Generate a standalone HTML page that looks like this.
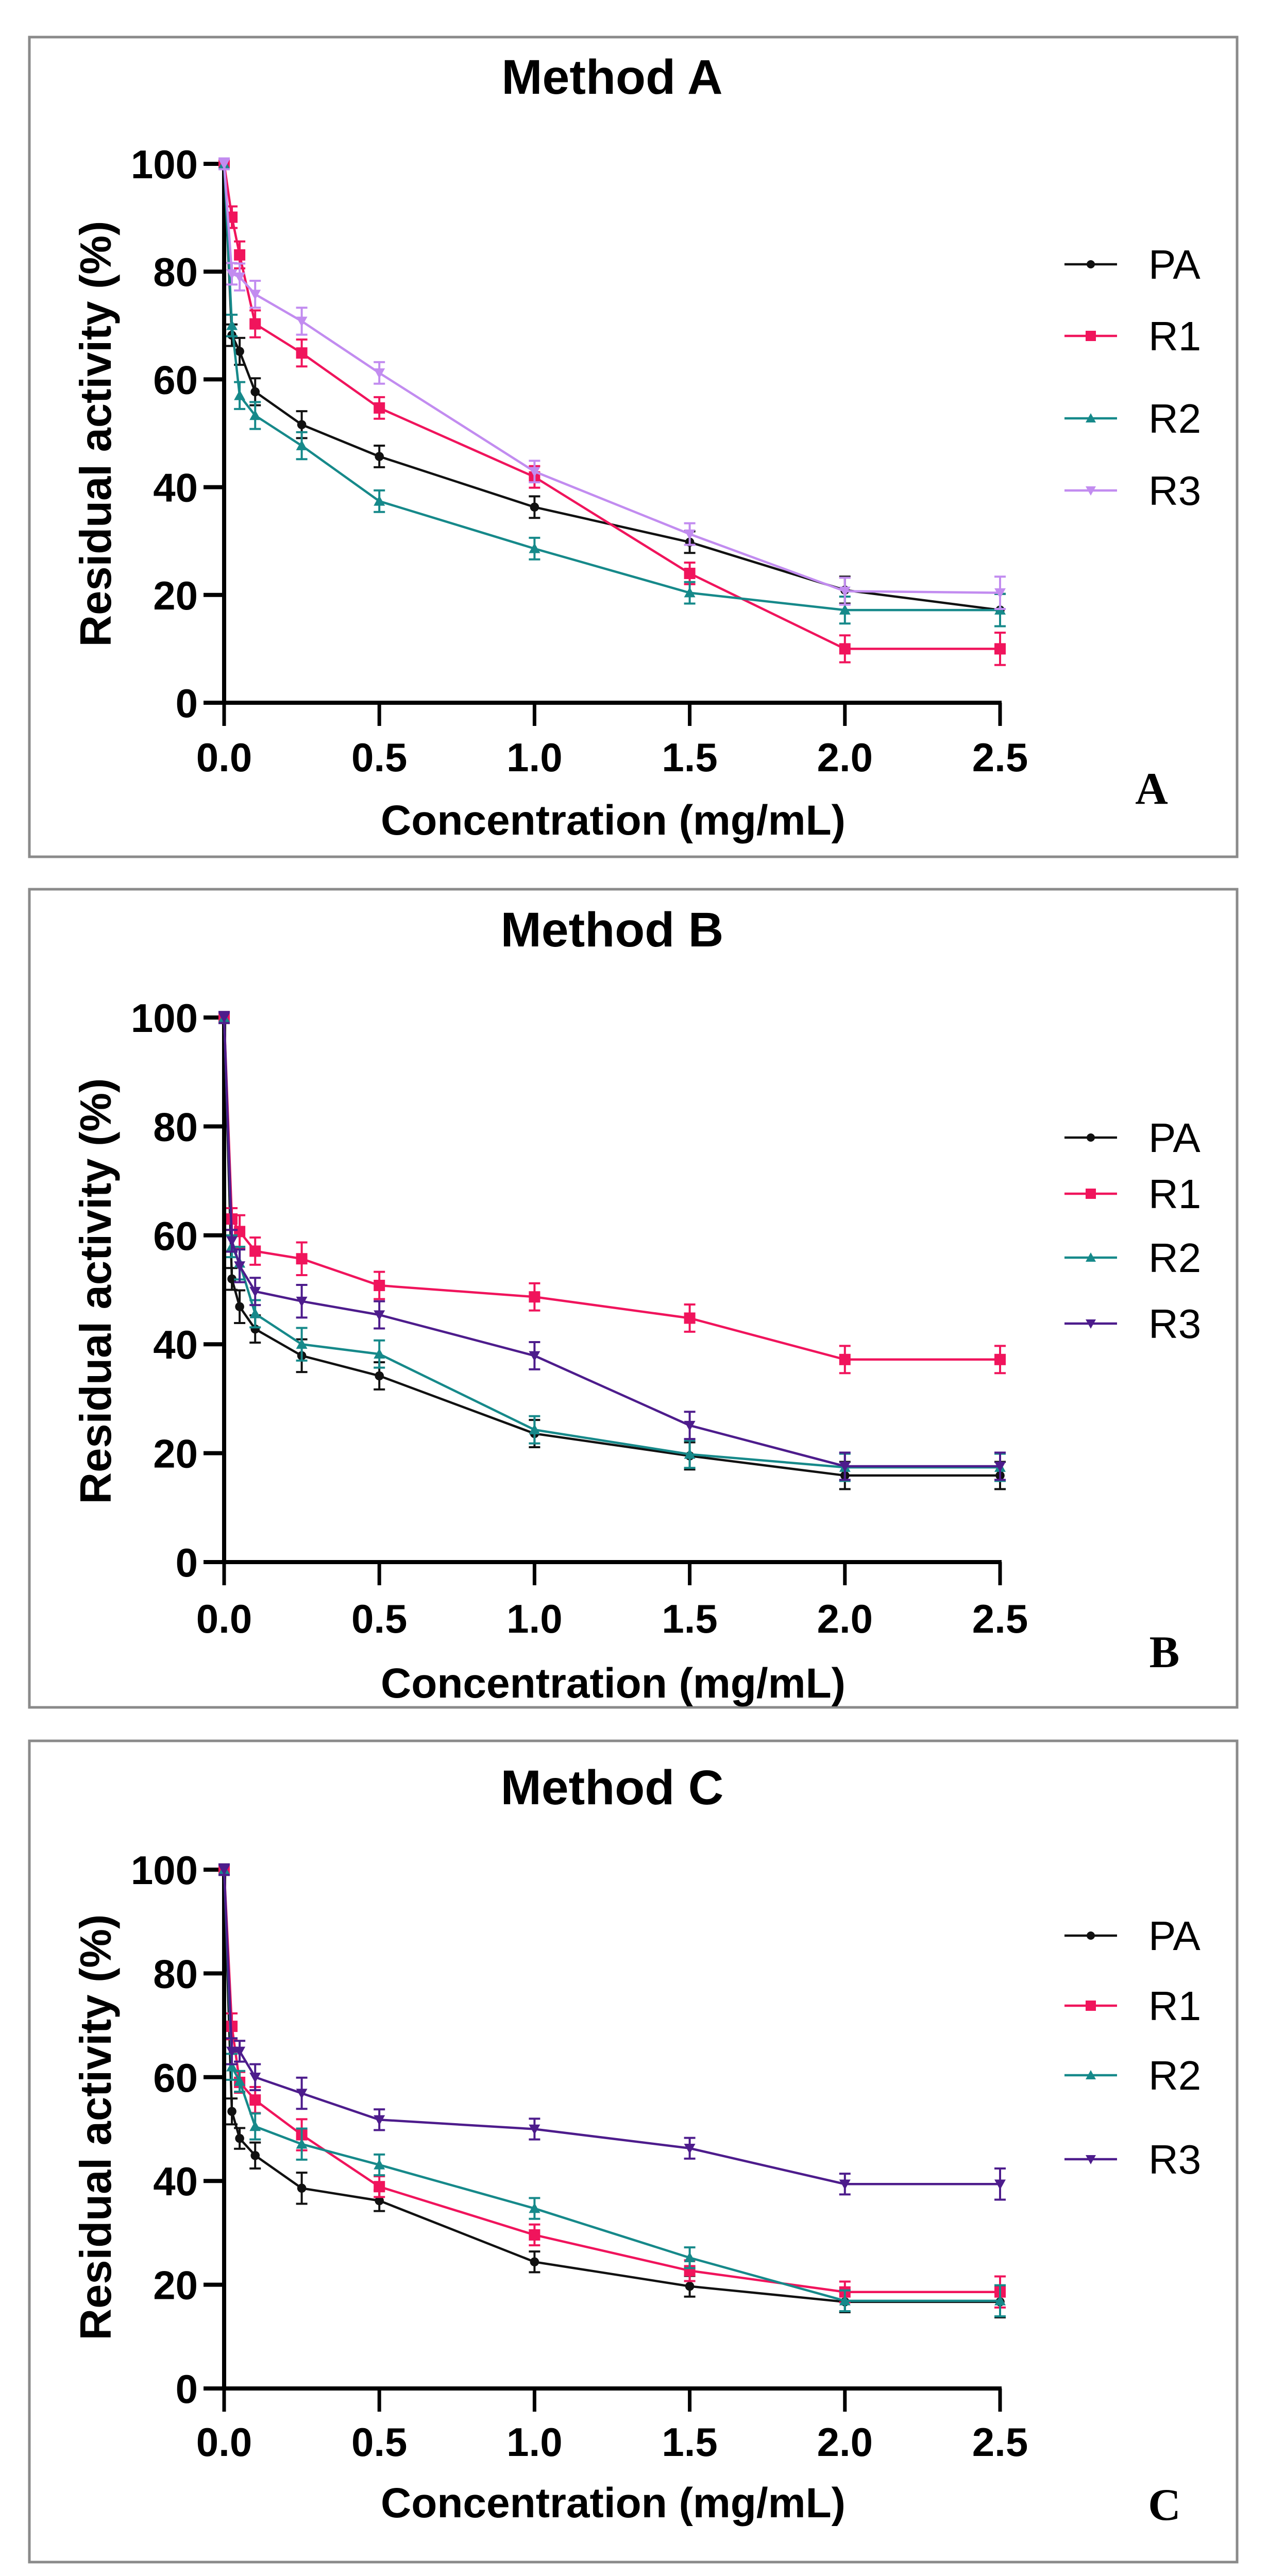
<!DOCTYPE html>
<html><head><meta charset="utf-8">
<style>
html,body{margin:0;padding:0;background:#fff;overflow:hidden;width:2461px;height:5019px;}
svg{display:block;}
</style></head>
<body>
<svg id="fig" xmlns="http://www.w3.org/2000/svg" width="2461" height="5019" viewBox="0 0 2461 5019">
<rect x="0" y="0" width="2461" height="5019" fill="#fff"/>
</svg>
<script>
const concentrations = [0, 0.025, 0.05, 0.1, 0.25, 0.5, 1, 1.5, 2, 2.5];
const xTicks = [0, 0.5, 1, 1.5, 2, 2.5];
const xTickLabels = ["0.0", "0.5", "1.0", "1.5", "2.0", "2.5"];
const yTicks = [0, 20, 40, 60, 80, 100];
const yTickLabels = ["0", "20", "40", "60", "80", "100"];
const seriesNames = ["PA", "R1", "R2", "R3"];
const panelTitles = ["Method A", "Method B", "Method C"];
const panelLetters = ["A", "B", "C"];

const aPA = [100, 68.2, 65.2, 57.7, 51.6, 45.7, 36.3, 29.8, 20.9, 17.2];
const aR1 = [100, 90.1, 83.1, 70.3, 64.9, 54.7, 41.9, 24.0, 10.0, 10.0];
const aR2 = [100, 70.0, 57.0, 53.3, 47.7, 37.4, 28.6, 20.4, 17.2, 17.2];
const aR3 = [100, 79.6, 79.0, 75.8, 70.8, 61.2, 42.9, 31.3, 20.7, 20.4];
const aErr = [1, 2, 2.5, 2.5, 2.5, 2, 2, 2, 2.5, 3];

const bPA = [100, 52.0, 46.9, 42.8, 37.9, 34.2, 23.6, 19.5, 15.9, 15.9];
const bR1 = [100, 63.0, 60.7, 57.1, 55.7, 50.8, 48.7, 44.8, 37.2, 37.2];
const bR2 = [100, 58.0, 54.9, 45.6, 40.0, 38.2, 24.3, 19.8, 17.4, 17.4];
const bR3 = [100, 59.0, 54.4, 49.7, 47.9, 45.4, 37.9, 25.1, 17.6, 17.6];
const bErr = [1, 2, 3, 2.5, 3, 2.5, 2.5, 2.5, 2.5, 2.5];

const cPA = [100, 53.4, 48.2, 44.9, 38.6, 36.2, 24.4, 19.7, 16.7, 16.7];
const cR1 = [100, 69.8, 59.0, 55.6, 48.9, 38.9, 29.6, 22.7, 18.6, 18.6];
const cR2 = [100, 62.0, 59.2, 50.5, 47.1, 43.1, 34.7, 25.2, 16.9, 16.9];
const cR3 = [100, 65.0, 65.0, 60.0, 56.9, 51.8, 50.0, 46.3, 39.4, 39.4];
const cErr = [1, 2.5, 2, 2.5, 3, 2, 2, 2, 2, 3];

const panelData = [[aPA, aR1, aR2, aR3], [bPA, bR1, bR2, bR3], [cPA, cR1, cR2, cR3]];
const panelErr = [aErr, bErr, cErr];

const NS = "http://www.w3.org/2000/svg";
const svg = document.getElementById("fig");
function mk(tag, attrs, parent) {
  const e = document.createElementNS(NS, tag);
  for (const k in attrs) e.setAttribute(k, attrs[k]);
  (parent || svg).appendChild(e);
  return e;
}
const layouts = [
  {frameTop:72, frameBot:1663, y100:318, y0:1364, titleY:182, tickLblY:1497, xTitleY:1620, yTitleY:842, letterX:2235, letterY:1560, legY:[513,652,812,952]},
  {frameTop:1726, frameBot:3314, y100:1975, y0:3032, titleY:1837, tickLblY:3169, xTitleY:3295, yTitleY:2506, letterX:2260, letterY:3236, legY:[2208,2317,2441,2569]},
  {frameTop:3379, frameBot:4973, y100:3629, y0:4636, titleY:3502, tickLblY:4767, xTitleY:4886, yTitleY:4129, letterX:2260, letterY:4891, legY:[3757,3893,4028,4191]}
];
const colorsByPanel = [
  ["#111111", "#f0145c", "#16898a", "#c28cf0"],
  ["#111111", "#f0145c", "#16898a", "#4d1c8c"],
  ["#111111", "#f0145c", "#16898a", "#4d1c8c"]
];
const X0 = 435, XU = 602.4;
function xs(v) { return X0 + v * XU; }

function marker(g, type, cx, cy, color, s) {
  let m;
  if (type === 0) m = mk("circle", {cx:cx, cy:cy, r:s*0.8, fill:color}, g);
  else if (type === 1) m = mk("rect", {x:cx-s, y:cy-s, width:2*s, height:2*s, fill:color}, g);
  else if (type === 2) m = mk("polygon", {points:`${cx},${cy-s} ${cx-s},${cy+s*0.8} ${cx+s},${cy+s*0.8}`, fill:color}, g);
  else m = mk("polygon", {points:`${cx},${cy+s} ${cx-s},${cy-s*0.8} ${cx+s},${cy-s*0.8}`, fill:color}, g);
  return m;
}

layouts.forEach((L, p) => {
  const ys = v => L.y0 - v * (L.y0 - L.y100) / 100;
  const g = mk("g", {});
  
  
  const fr = mk("rect", {x:57, y:L.frameTop, width:2344, height:L.frameBot-L.frameTop, fill:"none", stroke:"#8a8a8a", "stroke-width":5}, g);
  
  
  const t = mk("text", {x:1188, y:L.titleY, "text-anchor":"middle", "font-family":"Liberation Sans, sans-serif", "font-weight":"bold", "font-size":95, fill:"#000"}, g);
  t.textContent = panelTitles[p];
  
  
  const ax = mk("g", {}, g);
  
  
  mk("line", {x1:X0, y1:L.y100-4, x2:X0, y2:L.y0+4, stroke:"#000", "stroke-width":8}, ax);
  mk("line", {x1:X0-40, y1:L.y0, x2:xs(2.5)+3, y2:L.y0, stroke:"#000", "stroke-width":8}, ax);
  yTicks.forEach((v, i) => {
    mk("line", {x1:X0-40, y1:ys(v), x2:X0, y2:ys(v), stroke:"#000", "stroke-width":8}, ax);
    const tl = mk("text", {x:384, y:ys(v)+28, "text-anchor":"end", "font-family":"Liberation Sans, sans-serif", "font-weight":"bold", "font-size":78}, ax);
    tl.textContent = yTickLabels[i];
    
    
  });
  xTicks.forEach((v, i) => {
    mk("line", {x1:xs(v), y1:L.y0, x2:xs(v), y2:L.y0+45, stroke:"#000", "stroke-width":7}, ax);
    const tl = mk("text", {x:xs(v), y:L.tickLblY, "text-anchor":"middle", "font-family":"Liberation Sans, sans-serif", "font-weight":"bold", "font-size":78}, ax);
    tl.textContent = xTickLabels[i];
    
    
  });
  const xt = mk("text", {x:1190, y:L.xTitleY, "text-anchor":"middle", "font-family":"Liberation Sans, sans-serif", "font-weight":"bold", "font-size":82}, g);
  xt.textContent = "Concentration (mg/mL)";
  
  
  const yt = mk("text", {x:0, y:0, transform:`translate(215,${L.yTitleY}) rotate(-90)`, "text-anchor":"middle", "font-family":"Liberation Sans, sans-serif", "font-weight":"bold", "font-size":85}, g);
  yt.textContent = "Residual activity (%)";
  
  
  const lt = mk("text", {x:L.letterX, y:L.letterY, "text-anchor":"middle", "font-family":"Liberation Serif, serif", "font-weight":"bold", "font-size":88}, g);
  lt.textContent = panelLetters[p];
  
  
  panelData[p].forEach((vals, si) => {
    const col = colorsByPanel[p][si];
    const sg = mk("g", {}, g);
    
    
    const pts = vals.map((v, i) => `${xs(concentrations[i])},${ys(v)}`).join(" ");
    mk("polyline", {points:pts, fill:"none", stroke:col, "stroke-width":4.5}, sg);
    vals.forEach((v, i) => {
      const cx = xs(concentrations[i]), cy = ys(v);
      const e = panelErr[p][i] * (L.y0 - L.y100) / 100;
      const eb = mk("path", {d:`M${cx},${cy-e}V${cy+e}M${cx-11},${cy-e}H${cx+11}M${cx-11},${cy+e}H${cx+11}`, stroke:col, "stroke-width":4, fill:"none"}, sg);
      
      
      const m = marker(sg, si, cx, cy, col, 11);
      
      
    });
    const lg = mk("g", {}, g);
    
    
    const ly = L.legY[si];
    mk("line", {x1:2066, y1:ly, x2:2168, y2:ly, stroke:col, "stroke-width":4.5}, lg);
    marker(lg, si, 2117, ly, col, 10);
    const ltx = mk("text", {x:2229, y:ly+28, "font-family":"Liberation Sans, sans-serif", "font-size":80, fill:"#000"}, lg);
    ltx.textContent = seriesNames[si];
  });
});
</script>
</body></html>
